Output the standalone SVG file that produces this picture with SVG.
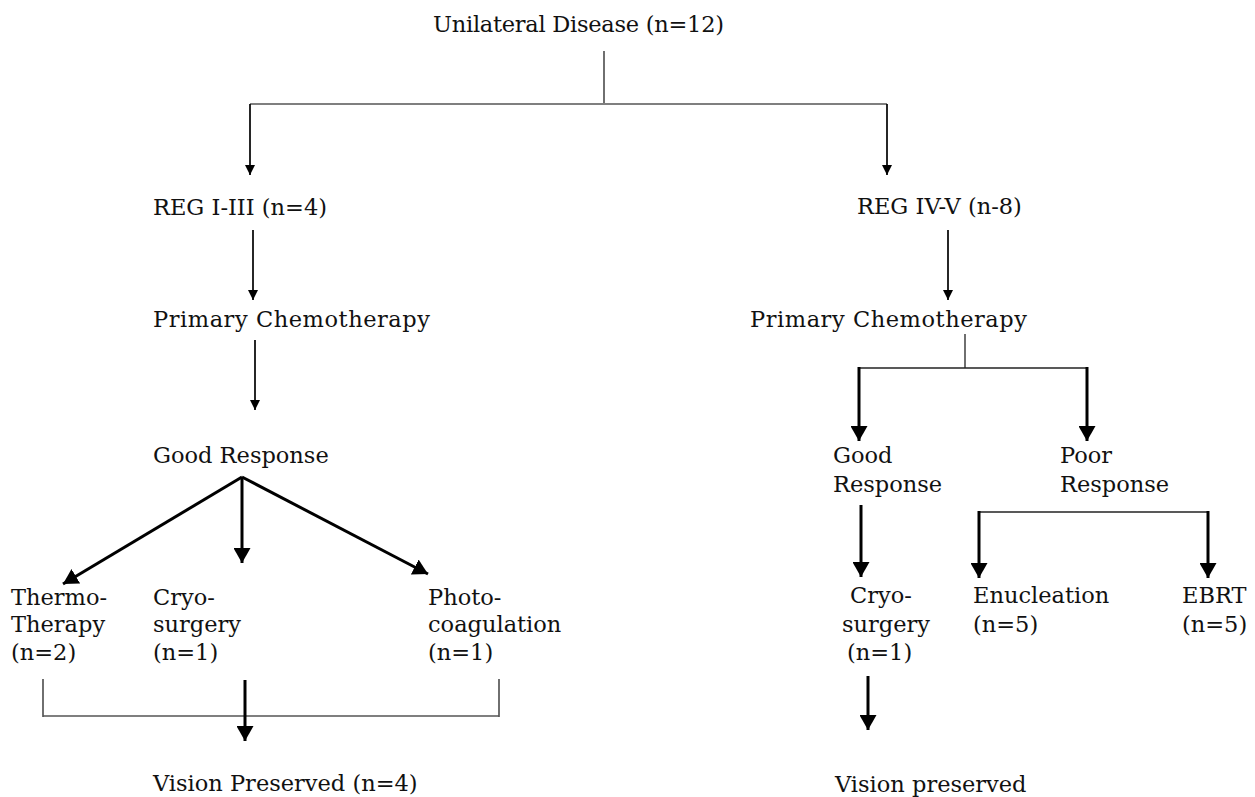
<svg xmlns="http://www.w3.org/2000/svg" width="1255" height="797" viewBox="0 0 1255 797">
<style>
text{font-family:"DejaVu Serif","Liberation Serif",serif;font-size:22.5px;fill:#111}
.thin{stroke:#000;stroke-width:1.7;fill:none}
.thick{stroke:#000;stroke-width:3;fill:none}
.plain{stroke:#222;stroke-width:1.3;fill:none}
.grey{stroke:#555;stroke-width:1.6;fill:none}
</style>
<defs>
<marker id="ah" markerUnits="userSpaceOnUse" viewBox="0 0 10 10" markerWidth="10" markerHeight="10" refX="10" refY="5" orient="auto"><path d="M0,0 L10,5 L0,10 Z" fill="#000"/></marker>
<marker id="AH" markerUnits="userSpaceOnUse" viewBox="0 0 15 17" markerWidth="15" markerHeight="17" refX="15" refY="8.5" orient="auto"><path d="M0,0 L15,8.5 L0,17 Z" fill="#000"/></marker>
</defs>
<rect width="1255" height="797" fill="#fff"/>
<g id="connectors">
<line class="plain" x1="604" y1="51" x2="604" y2="103"/>
<line class="grey" x1="250" y1="104" x2="887" y2="104"/>
<line class="thin" x1="250" y1="104" x2="250" y2="175" marker-end="url(#ah)"/>
<line class="thin" x1="887" y1="104" x2="887" y2="175" marker-end="url(#ah)"/>
<line class="thin" x1="253" y1="230" x2="253" y2="300" marker-end="url(#ah)"/>
<line class="thin" x1="255" y1="340" x2="255" y2="410" marker-end="url(#ah)"/>
<line class="thick" x1="242" y1="477" x2="63" y2="584" marker-end="url(#AH)"/>
<line class="thick" x1="242" y1="477" x2="242" y2="563" marker-end="url(#AH)"/>
<line class="thick" x1="242" y1="477" x2="428" y2="574" marker-end="url(#AH)"/>
<line class="plain" x1="43" y1="679" x2="43" y2="717"/>
<line class="plain" x1="499" y1="679" x2="499" y2="717"/>
<line class="grey" x1="43" y1="716" x2="499" y2="716"/>
<line class="thick" x1="245" y1="680" x2="245" y2="741" marker-end="url(#AH)"/>
<line class="thin" x1="948" y1="230" x2="948" y2="300" marker-end="url(#ah)"/>
<line class="plain" x1="965" y1="334" x2="965" y2="368"/>
<line class="plain" x1="859" y1="368" x2="1087" y2="368"/>
<line class="thick" x1="859" y1="367" x2="859" y2="441" marker-end="url(#AH)"/>
<line class="thick" x1="1087" y1="367" x2="1087" y2="441" marker-end="url(#AH)"/>
<line class="thick" x1="861" y1="505" x2="861" y2="577" marker-end="url(#AH)"/>
<line class="plain" x1="979" y1="512" x2="1208" y2="512"/>
<line class="thick" x1="979" y1="511" x2="979" y2="578" marker-end="url(#AH)"/>
<line class="thick" x1="1208" y1="511" x2="1208" y2="578" marker-end="url(#AH)"/>
<line class="thick" x1="868" y1="676" x2="868" y2="730" marker-end="url(#AH)"/>
</g>
<g id="unilateral"><text x="433" y="32" textLength="291" lengthAdjust="spacing">Unilateral Disease (n=12)</text></g>
<g id="reg13"><text x="153" y="215">REG I-III (n=4)</text></g>
<g id="reg45"><text x="857" y="214">REG IV-V (n-8)</text></g>
<g id="chemo-left"><text x="153" y="327" textLength="277" lengthAdjust="spacing">Primary Chemotherapy</text></g>
<g id="chemo-right"><text x="750" y="327" textLength="277" lengthAdjust="spacing">Primary Chemotherapy</text></g>
<g id="good-left"><text x="153" y="463">Good Response</text></g>
<g id="good-right"><text x="833" y="463">Good</text><text x="833" y="492">Response</text></g>
<g id="poor-right"><text x="1060" y="463">Poor</text><text x="1060" y="492">Response</text></g>
<g id="thermo"><text x="11" y="605">Thermo-</text><text x="11" y="632">Therapy</text><text x="11" y="660">(n=2)</text></g>
<g id="cryo-left"><text x="153" y="605">Cryo-</text><text x="153" y="632">surgery</text><text x="153" y="660">(n=1)</text></g>
<g id="photo"><text x="428" y="605">Photo-</text><text x="428" y="632">coagulation</text><text x="428" y="660">(n=1)</text></g>
<g id="cryo-right"><text x="850" y="603">Cryo-</text><text x="842" y="632">surgery</text><text x="847" y="660">(n=1)</text></g>
<g id="enucleation"><text x="973" y="603">Enucleation</text><text x="973" y="632">(n=5)</text></g>
<g id="ebrt"><text x="1182" y="603">EBRT</text><text x="1182" y="632">(n=5)</text></g>
<g id="vision-left"><text x="153" y="791">Vision Preserved (n=4)</text></g>
<g id="vision-right"><text x="835" y="792">Vision preserved</text></g>
</svg>
